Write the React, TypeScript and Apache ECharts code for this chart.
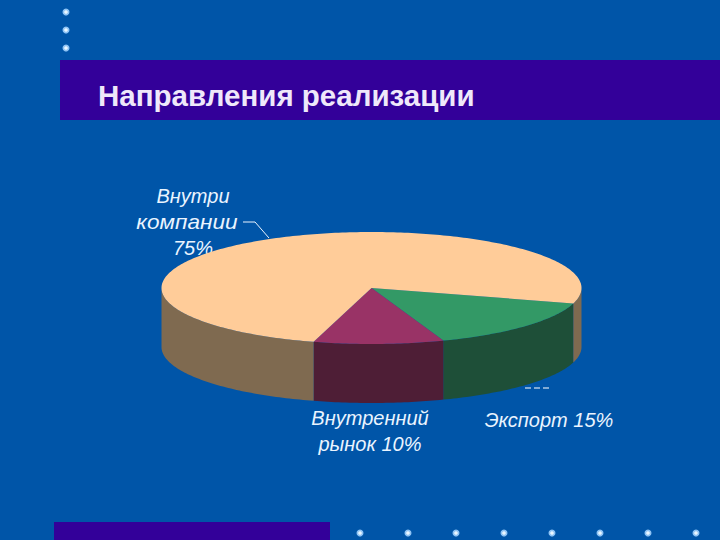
import React, { useEffect, useRef } from "react";
import * as echarts from "echarts";

const titleText = "Направления реализации";
const sliceNames = ["Экспорт", "Внутренний рынок", "Внутри компании"];
const sliceValues = [15, 10, 75];
const topColors = ["#339966", "#993366", "#FFCC99"];
const sideColors = ["#1E4F38", "#4E1E36", "#7F6A50"];
const labelLines = [
  ["Внутри", "компании", "75%"],
  ["Внутренний", "рынок 10%"],
  ["Экспорт 15%"],
];
const topDots = [12, 30, 48];
const bottomDots = [360, 408, 456, 504, 552, 600, 648, 696];

const BG = "#0055A8";
const BAND = "#330099";
const CX = 371.5, CY = 288, RX = 210, RY = 56, DEPTH = 59, START = 16;

const total = sliceValues.reduce((a, b) => a + b, 0);
const ranges = sliceValues.map((_, i) => {
  const before = sliceValues.slice(0, i).reduce((a, b) => a + b, 0);
  return [START + (before / total) * 360, START + ((before + sliceValues[i]) / total) * 360];
});

const pt = (deg: number, dy = 0): number[] => {
  const t = (deg * Math.PI) / 180;
  return [CX + RX * Math.cos(t), CY + RY * Math.sin(t) + dy];
};
const arc = (a: number, b: number, dy = 0): number[][] => {
  const out: number[][] = [];
  const n = Math.max(2, Math.ceil(Math.abs(b - a)));
  for (let i = 0; i <= n; i++) out.push(pt(a + ((b - a) * i) / n, dy));
  return out;
};

// visible (front) parts of a slice's outer wall: angles inside 0..180 on the screen
const frontParts = (a: number, b: number): number[][] => {
  const parts: number[][] = [];
  for (const k of [0, 360]) {
    const s = Math.max(a, k), e = Math.min(b, k + 180);
    if (e > s) parts.push([s, e]);
  }
  return parts;
};

const renderSide = (_: any, api: any) => {
  const i = api.value(0) as number;
  const [a, b] = ranges[i];
  return {
    type: "group",
    children: frontParts(a, b).map(([s, e]) => ({
      type: "polygon",
      shape: { points: [...arc(s, e), ...arc(e, s, DEPTH)] },
      style: { fill: sideColors[i] },
    })),
  };
};

const renderTop = (_: any, api: any) => {
  const i = api.value(0) as number;
  const [a, b] = ranges[i];
  return {
    type: "polygon",
    shape: { points: [[CX, CY], ...arc(a, b)] },
    style: { fill: topColors[i] },
  };
};

const seriesData = sliceValues.map((v, i) => ({ name: sliceNames[i], value: [i, v] }));

const labelStyle = {
  fill: "#EAF4FF",
  font: "italic 20px 'Liberation Sans', Arial, sans-serif",
  textAlign: "center",
  textVerticalAlign: "middle",
};

const labelEl = (text: string, x: number, y: number, scaleX = 1) => ({
  type: "text",
  x,
  y,
  scaleX,
  z: 1,
  style: { ...labelStyle, text },
});

const dot = (x: number, y: number) => [
  { type: "circle", z: 1, shape: { cx: x, cy: y, r: 3.5 }, style: { fill: "#8FC4F5" } },
  { type: "circle", z: 1, shape: { cx: x, cy: y, r: 1.8 }, style: { fill: "#EAF6FF" } },
];

export default function App() {
  const ref = useRef<HTMLDivElement>(null);
  useEffect(() => {
    document.body.style.margin = "0";
    const chart = echarts.init(ref.current!, undefined, { renderer: "svg" });
    chart.setOption({
      animation: false,
      backgroundColor: BG,
      title: {
        text: titleText,
        left: 93,
        top: 75,
        textStyle: {
          color: "#EFE8FA",
          fontFamily: "'Liberation Sans', Arial, sans-serif",
          fontWeight: "bold",
          fontSize: 29.5,
        },
      },
      xAxis: { show: false, type: "value", min: 0, max: 720 },
      yAxis: { show: false, type: "value", min: 0, max: 540 },
      grid: { left: 0, right: 0, top: 0, bottom: 0 },
      series: [
        {
          type: "custom",
          z: 3,
          coordinateSystem: "none",
          renderItem: renderSide,
          data: seriesData,
          silent: true,
        },
        {
          type: "custom",
          z: 4,
          coordinateSystem: "none",
          renderItem: renderTop,
          data: seriesData,
          silent: true,
        },
      ],
      graphic: {
        elements: [
          { type: "rect", z: 0, shape: { x: 60, y: 60, width: 660, height: 60 }, style: { fill: BAND } },
          { type: "rect", z: 0, shape: { x: 54, y: 522, width: 276, height: 18 }, style: { fill: BAND } },
          ...topDots.flatMap((y) => dot(66, y)),
          ...bottomDots.flatMap((x) => dot(x, 533)),
          labelEl(labelLines[0][0], 193, 196),
          labelEl(labelLines[0][1], 187, 222, 1.13),
          labelEl(labelLines[0][2], 193, 248),
          labelEl(labelLines[1][0], 370, 418),
          labelEl(labelLines[1][1], 370, 444),
          labelEl(labelLines[2][0], 549, 420),
          {
            type: "polyline",
            z: 1,
            shape: { points: [[243, 222], [255, 222], [269, 238]] },
            style: { stroke: "#EAF4FF", lineWidth: 1, fill: "none" },
          },
          {
            type: "line",
            z: 1,
            shape: { x1: 525, y1: 388, x2: 550, y2: 388 },
            style: { stroke: "#FFFFFF", lineWidth: 1.2, lineDash: [6, 3] },
          },
        ],
      },
    });
    return () => chart.dispose();
  }, []);
  return <div ref={ref} style={{ width: 720, height: 540 }} />;
}
